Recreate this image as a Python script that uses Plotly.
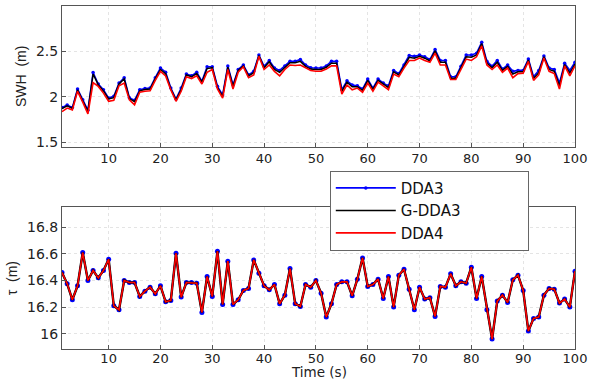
import plotly.graph_objects as go

t = list(range(1, 101))

series_names = ["DDA3", "G-DDA3", "DDA4"]

swh_dda3 = [1.88, 1.91, 1.88, 2.085, 1.967, 1.85, 2.267, 2.14, 2.077, 1.985,
            2.004, 2.15, 2.21, 1.99, 1.96, 2.077, 2.09, 2.095, 2.21, 2.316,
            2.27, 2.095, 1.975, 2.095, 2.25, 2.23, 2.27, 2.17, 2.33, 2.33,
            2.115, 2.02, 2.34, 2.13, 2.30, 2.35, 2.24, 2.28, 2.46, 2.335,
            2.40, 2.316, 2.29, 2.34, 2.39, 2.39, 2.41, 2.35, 2.32, 2.316,
            2.316, 2.34, 2.39, 2.39, 2.077, 2.175, 2.13, 2.12, 2.085, 2.195,
            2.095, 2.195, 2.15, 2.12, 2.29, 2.255, 2.35, 2.455, 2.445, 2.46,
            2.44, 2.41, 2.52, 2.40, 2.40, 2.22, 2.22, 2.335, 2.46, 2.46,
            2.48, 2.60, 2.39, 2.335, 2.40, 2.305, 2.35, 2.28, 2.29, 2.29,
            2.415, 2.22, 2.29, 2.45, 2.316, 2.30, 2.15, 2.37, 2.29, 2.38]

swh_gdda3 = [1.87, 1.90, 1.87, 2.075, 1.955, 1.84, 2.25, 2.13, 2.065, 1.975,
             1.99, 2.14, 2.195, 1.98, 1.945, 2.065, 2.08, 2.085, 2.20, 2.30,
             2.255, 2.085, 1.965, 2.08, 2.24, 2.22, 2.255, 2.16, 2.31, 2.32,
             2.10, 2.005, 2.325, 2.115, 2.29, 2.34, 2.23, 2.265, 2.455, 2.32,
             2.385, 2.30, 2.27, 2.325, 2.375, 2.375, 2.39, 2.335, 2.305, 2.30,
             2.30, 2.325, 2.37, 2.37, 2.06, 2.16, 2.11, 2.11, 2.07, 2.18,
             2.08, 2.18, 2.135, 2.10, 2.275, 2.24, 2.335, 2.435, 2.425, 2.445,
             2.425, 2.395, 2.505, 2.38, 2.38, 2.205, 2.205, 2.32, 2.44, 2.435,
             2.46, 2.585, 2.37, 2.32, 2.38, 2.29, 2.335, 2.25, 2.275, 2.275,
             2.405, 2.20, 2.265, 2.44, 2.30, 2.28, 2.12, 2.355, 2.26, 2.36]

swh_dda4 = [1.835, 1.875, 1.855, 2.06, 1.94, 1.81, 2.156, 2.114, 2.04, 1.95,
            1.96, 2.12, 2.15, 1.965, 1.91, 2.05, 2.06, 2.065, 2.18, 2.28,
            2.23, 2.075, 1.95, 2.06, 2.22, 2.20, 2.23, 2.14, 2.27, 2.30,
            2.085, 1.985, 2.30, 2.085, 2.27, 2.33, 2.21, 2.24, 2.445, 2.30,
            2.35, 2.28, 2.23, 2.30, 2.35, 2.345, 2.35, 2.316, 2.29, 2.28,
            2.28, 2.305, 2.34, 2.34, 2.03, 2.13, 2.077, 2.095, 2.05, 2.15,
            2.06, 2.16, 2.114, 2.077, 2.25, 2.22, 2.316, 2.40, 2.40, 2.426,
            2.40, 2.38, 2.48, 2.35, 2.35, 2.19, 2.19, 2.30, 2.415, 2.40,
            2.44, 2.56, 2.35, 2.30, 2.35, 2.27, 2.316, 2.21, 2.255, 2.26,
            2.39, 2.18, 2.24, 2.426, 2.28, 2.255, 2.085, 2.34, 2.23, 2.34]

tau = [16.46, 16.375, 16.255, 16.36, 16.61, 16.40, 16.475, 16.42, 16.475, 16.56,
       16.21, 16.18, 16.40, 16.385, 16.385, 16.28, 16.32, 16.35, 16.30, 16.36,
       16.24, 16.25, 16.605, 16.275, 16.385, 16.385, 16.38, 16.16, 16.43, 16.28,
       16.62, 16.22, 16.545, 16.22, 16.255, 16.325, 16.34, 16.555, 16.455, 16.36,
       16.33, 16.37, 16.225, 16.29, 16.49, 16.225, 16.205, 16.37, 16.35, 16.40,
       16.305, 16.125, 16.225, 16.37, 16.39, 16.39, 16.285, 16.41, 16.57, 16.355,
       16.37, 16.41, 16.265, 16.43, 16.20, 16.44, 16.485, 16.335, 16.18, 16.35,
       16.26, 16.27, 16.13, 16.355, 16.35, 16.45, 16.36, 16.39, 16.38, 16.50,
       16.265, 16.43, 16.18, 15.96, 16.245, 16.29, 16.235, 16.405, 16.44, 16.325,
       16.02, 16.115, 16.125, 16.29, 16.34, 16.335, 16.23, 16.26, 16.20, 16.47]

x_ticks = [10, 20, 30, 40, 50, 60, 70, 80, 90, 100]
swh_ticks = [1.5, 2, 2.5]
tau_ticks = [16, 16.2, 16.4, 16.6, 16.8]

FONT = "DejaVu Sans, sans-serif"
TFONT = "Liberation Sans, Arial, sans-serif"
BLUE = "#0000ff"
BLACK = "#000000"
RED = "#ff0000"
PAD = "\u00a0" * 13  # widens the legend box like the reference

fig = go.Figure()

# top panel
fig.add_trace(go.Scatter(x=t, y=swh_dda3, mode="lines+markers", name=series_names[0] + PAD,
                         line=dict(color=BLUE, width=1.6), marker=dict(color=BLUE, size=3.5),
                         xaxis="x", yaxis="y", showlegend=True, legendgroup="a"))
fig.add_trace(go.Scatter(x=t, y=swh_gdda3, mode="lines", name=series_names[1] + PAD,
                         line=dict(color=BLACK, width=1.5),
                         xaxis="x", yaxis="y", showlegend=True, legendgroup="b"))
fig.add_trace(go.Scatter(x=t, y=swh_dda4, mode="lines", name=series_names[2] + PAD,
                         line=dict(color=RED, width=1.6),
                         xaxis="x", yaxis="y", showlegend=True, legendgroup="c"))

# bottom panel
fig.add_trace(go.Scatter(x=t, y=tau, mode="lines+markers", name=series_names[0],
                         line=dict(color=BLUE, width=1.5), marker=dict(color=BLUE, size=5),
                         xaxis="x2", yaxis="y2", showlegend=False, legendgroup="a"))
fig.add_trace(go.Scatter(x=t, y=tau, mode="lines", name=series_names[1],
                         line=dict(color=BLACK, width=2.4),
                         xaxis="x2", yaxis="y2", showlegend=False, legendgroup="b"))
fig.add_trace(go.Scatter(x=t, y=tau, mode="lines", name=series_names[2],
                         line=dict(color=RED, width=1.6),
                         xaxis="x2", yaxis="y2", showlegend=False, legendgroup="c"))

axis_common = dict(showline=True, linecolor="#555555", linewidth=1, mirror=True,
                   showgrid=True, gridcolor="#e4e4e4", griddash="dot", gridwidth=1,
                   ticks="inside", ticklen=4, tickcolor="#555555",
                   zeroline=False)
ytick_font = dict(family=FONT, size=14, color="#222222")
xtick_font = dict(family=FONT, size=13, color="#222222")

fig.update_layout(
    width=592, height=381,
    margin=dict(l=62, r=15, t=5, b=32),
    paper_bgcolor="white", plot_bgcolor="white",
    font=dict(family=FONT, size=14, color="#222222"),
    xaxis=dict(domain=[0, 1], range=[1, 100], tickvals=x_ticks, anchor="y",
               ticklabelstandoff=0, tickfont=xtick_font, **axis_common),
    yaxis=dict(domain=[0.59, 1.0], range=[1.45, 3.0], tickvals=swh_ticks,
               ticktext=["1.5", "2", "2.5"], anchor="x", tickfont=ytick_font,
               title=dict(text="SWH  (m)", font=dict(family=TFONT, size=14), standoff=6),
               **axis_common),
    xaxis2=dict(domain=[0, 1], range=[1, 100], tickvals=x_ticks, anchor="y2",
                ticklabelstandoff=-3, tickfont=xtick_font, **axis_common),
    yaxis2=dict(domain=[0, 0.413], range=[15.885, 16.95], tickvals=tau_ticks,
                ticktext=["16", "16.2", "16.4", "16.6", "16.8"], anchor="x2",
                tickfont=ytick_font,
                title=dict(text="τ  (m)", font=dict(family=TFONT, size=14), standoff=6),
                **axis_common),
    legend=dict(x=0.522, y=0.52, xanchor="left", yanchor="top",
                bgcolor="white", bordercolor="#666666", borderwidth=1,
                font=dict(family=FONT, size=15, color="#111111"),
                itemwidth=60, tracegroupgap=0),
    showlegend=True,
    annotations=[dict(text="Time (s)", xref="paper", yref="paper", x=0.5, y=-0.0959,
                      xanchor="center", yanchor="bottom", showarrow=False,
                      font=dict(family=FONT, size=13.5, color="#222222"))],
)

fig.write_html("out.html", config={"displayModeBar": False},
               post_script="document.body.style.margin='0';document.body.style.padding='0';")
